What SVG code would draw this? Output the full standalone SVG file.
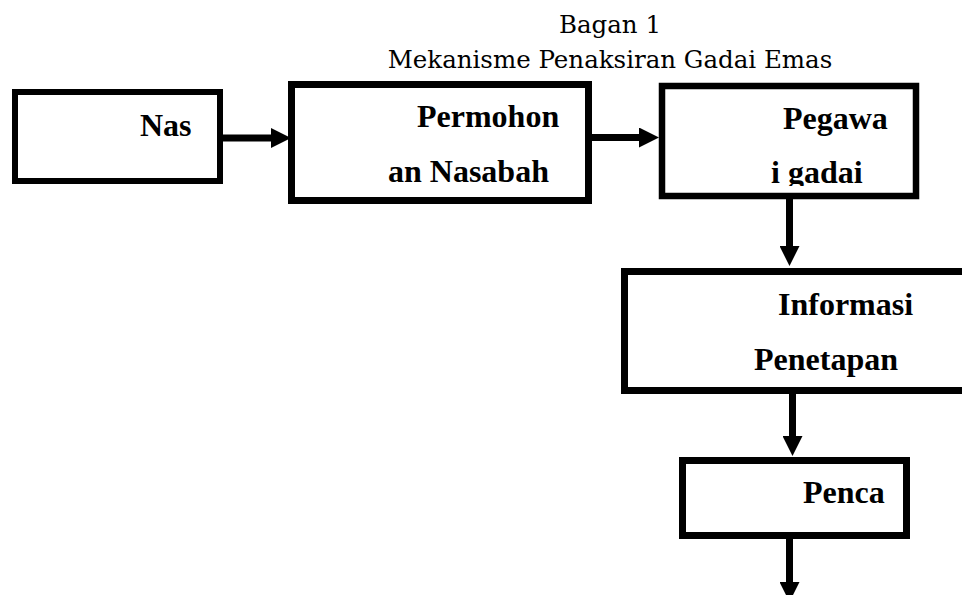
<svg xmlns="http://www.w3.org/2000/svg" width="962" height="595" viewBox="0 0 962 595">
  <style>
    .box { fill: #ffffff; stroke: #000000; stroke-width: 7; }
    .lbl { font-family: "Liberation Serif", "Times New Roman", serif; font-weight: bold; font-size: 32px; fill: #000000; }
    .title { font-family: "DejaVu Serif", serif; font-size: 24.5px; fill: #000000; text-anchor: middle; }
    .conn { stroke: #000000; stroke-width: 7; fill: none; }
  </style>
  <defs>
    <marker id="arrow" markerUnits="userSpaceOnUse" markerWidth="20" markerHeight="20" viewBox="0 0 20 20" refX="0" refY="10" orient="auto">
      <path d="M0,0 L20,10 L0,20 z" fill="#000000"/>
    </marker>
    <clipPath id="clipPeg">
      <rect x="600" y="0" width="362" height="186"/>
    </clipPath>
  </defs>
  <rect width="962" height="595" fill="#ffffff"/>

  <g id="title">
    <text class="title" x="610" y="33">Bagan 1</text>
    <text class="title" x="610" y="68">Mekanisme Penaksiran Gadai Emas</text>
  </g>

  <g id="node-nas">
    <rect class="box" x="15" y="92" width="205" height="89" style="stroke-width:6"/>
    <text class="lbl" x="140" y="136">Nas</text>
  </g>

  <g id="node-permohonan">
    <rect class="box" x="291.5" y="84.5" width="297" height="116"/>
    <text class="lbl" x="417" y="127">Permohon</text>
    <text class="lbl" x="388" y="182">an Nasabah</text>
  </g>

  <g id="node-pegawai">
    <rect class="box" x="662" y="86" width="254" height="110" style="stroke-width:6.5"/>
    <text class="lbl" x="783" y="129">Pegawa</text>
    <text class="lbl" x="771" y="183" clip-path="url(#clipPeg)">i gadai</text>
  </g>

  <g id="node-informasi">
    <rect class="box" x="624.5" y="271.5" width="345" height="119"/>
    <text class="lbl" x="778" y="315">Informasi</text>
    <text class="lbl" x="754" y="370">Penetapan</text>
  </g>

  <g id="node-penca">
    <rect class="box" x="682.5" y="460.5" width="224" height="75"/>
    <text class="lbl" x="803" y="503">Penca</text>
  </g>

  <g id="connectors">
    <line class="conn" x1="223" y1="138" x2="271" y2="138" marker-end="url(#arrow)"/>
    <line class="conn" x1="592" y1="137.5" x2="639" y2="137.5" marker-end="url(#arrow)"/>
    <line class="conn" x1="789.5" y1="199" x2="789.5" y2="246" marker-end="url(#arrow)"/>
    <line class="conn" x1="792.5" y1="394" x2="792.5" y2="436" marker-end="url(#arrow)"/>
    <line class="conn" x1="789.5" y1="539" x2="789.5" y2="582" marker-end="url(#arrow)"/>
  </g>
</svg>
